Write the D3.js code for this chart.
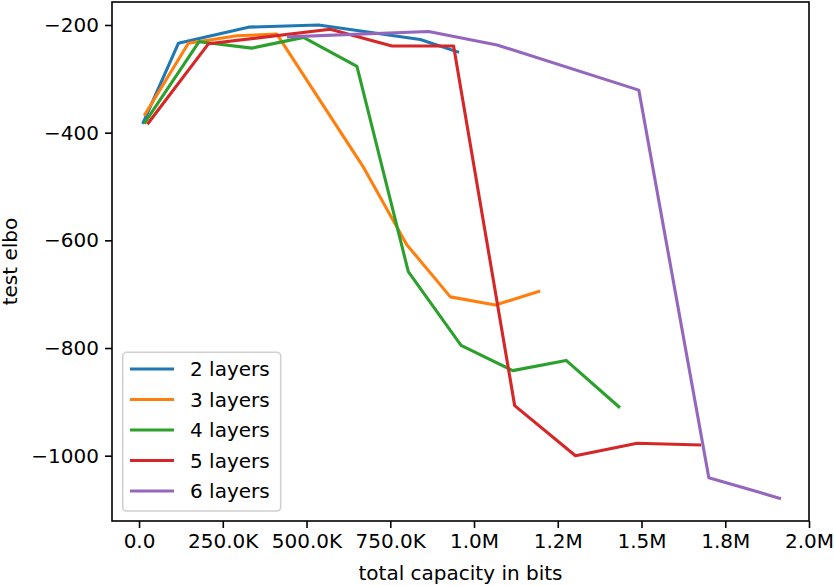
<!DOCTYPE html>
<html>
<head>
<meta charset="utf-8">
<script src="https://cdn.jsdelivr.net/npm/d3@7"></script>
<style>
    body { margin: 0; background: white; }
    svg { font-family: "DejaVu Sans", sans-serif; }
</style>
</head>
<body>
<div id="chart"></div>
<script>
// series names
var layerNames = ["2 layers", "3 layers", "4 layers", "5 layers", "6 layers"];
var colors = ["#1f77b4", "#ff7f0e", "#2ca02c", "#d62728", "#9467bd"];

// total capacity (bits) for each run
var capacity2 = [12800, 117400, 326600, 535800, 839600, 951000];
var capacity3 = [17900, 147300, 292000, 411500, 667800, 799300, 929300, 1063700, 1193000];
var capacity4 = [17900, 179300, 336700, 491000, 650500, 803800, 961300, 1115400, 1275000, 1432200];
var capacity5 = [27800, 207000, 570700, 755000, 939000, 1121400, 1302800, 1487000, 1673000];
var capacity6 = [446000, 864400, 1068800, 1492000, 1701000, 1912000];

// test elbo for each run
var elbo2 = [-381, -234, -204, -200, -227, -250];
var elbo3 = [-366, -234, -220, -217, -462, -608, -705, -720, -695];
var elbo4 = [-381, -231, -243, -223, -277, -658, -795, -842, -823, -909];
var elbo5 = [-382, -235, -208, -239, -239, -907, -1000, -977, -980];
var elbo6 = [-222, -212, -237, -321, -1041, -1079];

// ticks
var xTicks = [0, 250000, 500000, 750000, 1000000, 1250000, 1500000, 1750000, 2000000];
var xTickLabels = ["0.0", "250.0K", "500.0K", "750.0K", "1.0M", "1.2M", "1.5M", "1.8M", "2.0M"];
var yTicks = [-200, -400, -600, -800, -1000];
var yTickLabels = ["\u2212200", "\u2212400", "\u2212600", "\u2212800", "\u22121000"];

function init(){
    var w = 834;
    var h = 586;
    var left = 112, right = 809, top = 2, bottom = 521;

    var capacities = [capacity2, capacity3, capacity4, capacity5, capacity6];
    var elbos = [elbo2, elbo3, elbo4, elbo5, elbo6];

    var xScale = d3.scaleLinear()
                    .domain([-80700, 2000000])
                    .range([left, right]);

    var yScale = d3.scaleLinear()
                    .domain([-1121.3, -157.3])
                    .range([bottom, top]);

    var svg = d3.select('#chart')
                .append('svg')
                .attr('width', w)
                .attr('height', h);

    // lines
    var line = d3.line()
                .x(function(d){ return xScale(d[0]); })
                .y(function(d){ return yScale(d[1]); });

    layerNames.forEach(function(name, i){
        var pts = capacities[i].map(function(c, j){ return [c, elbos[i][j]]; });
        svg.append('path')
            .datum(pts)
            .attr('d', line)
            .attr('fill', 'none')
            .attr('stroke', colors[i])
            .attr('stroke-width', 3.1)
            .attr('stroke-linejoin', 'round')
            .attr('stroke-linecap', 'square');
    });

    // x axis
    var xAxis = d3.axisBottom(xScale)
                .tickValues(xTicks)
                .tickFormat(function(d, i){ return xTickLabels[i]; })
                .tickSize(7)
                .tickPadding(6);
    var gx = svg.append('g')
        .attr('transform', 'translate(0,' + bottom + ')')
        .call(xAxis);

    // y axis
    var yAxis = d3.axisLeft(yScale)
                .tickValues(yTicks)
                .tickFormat(function(d, i){ return yTickLabels[i]; })
                .tickSize(7)
                .tickPadding(6);
    var gy = svg.append('g')
        .attr('transform', 'translate(' + left + ',0)')
        .call(yAxis);

    [gx, gy].forEach(function(g){
        g.select('.domain').remove();
        g.selectAll('line').attr('stroke', 'black').attr('stroke-width', 1.6);
        g.selectAll('text').attr('font-size', '20px').attr('fill', 'black')
            .attr('font-family', '"DejaVu Sans", sans-serif');
    });

    // frame
    svg.append('rect')
        .attr('x', left)
        .attr('y', top)
        .attr('width', right - left)
        .attr('height', bottom - top)
        .attr('fill', 'none')
        .attr('stroke', 'black')
        .attr('stroke-width', 1.6);

    // axis labels
    svg.append('text')
        .attr('x', (left + right) / 2)
        .attr('y', 580)
        .attr('text-anchor', 'middle')
        .attr('font-size', '20px')
        .text('total capacity in bits');

    svg.append('text')
        .attr('transform', 'translate(17,' + ((top + bottom) / 2) + ') rotate(-90)')
        .attr('text-anchor', 'middle')
        .attr('font-size', '20px')
        .text('test elbo');

    // legend
    var legend = svg.append('g');
    legend.append('rect')
        .attr('x', 122.7)
        .attr('y', 352.3)
        .attr('width', 158)
        .attr('height', 158.7)
        .attr('rx', 4)
        .attr('fill', 'white')
        .attr('fill-opacity', 0.8)
        .attr('stroke', '#d0d0d0')
        .attr('stroke-width', 1.6);

    layerNames.forEach(function(name, i){
        var yy = 369 + i * 30.5;
        legend.append('line')
            .attr('x1', 130)
            .attr('x2', 174)
            .attr('y1', yy)
            .attr('y2', yy)
            .attr('stroke', colors[i])
            .attr('stroke-width', 3.1);
        legend.append('text')
            .attr('x', 190)
            .attr('y', yy + 7)
            .attr('font-size', '20px')
            .text(name);
    });
}

window.onload = init;
</script>
</body>
</html>
